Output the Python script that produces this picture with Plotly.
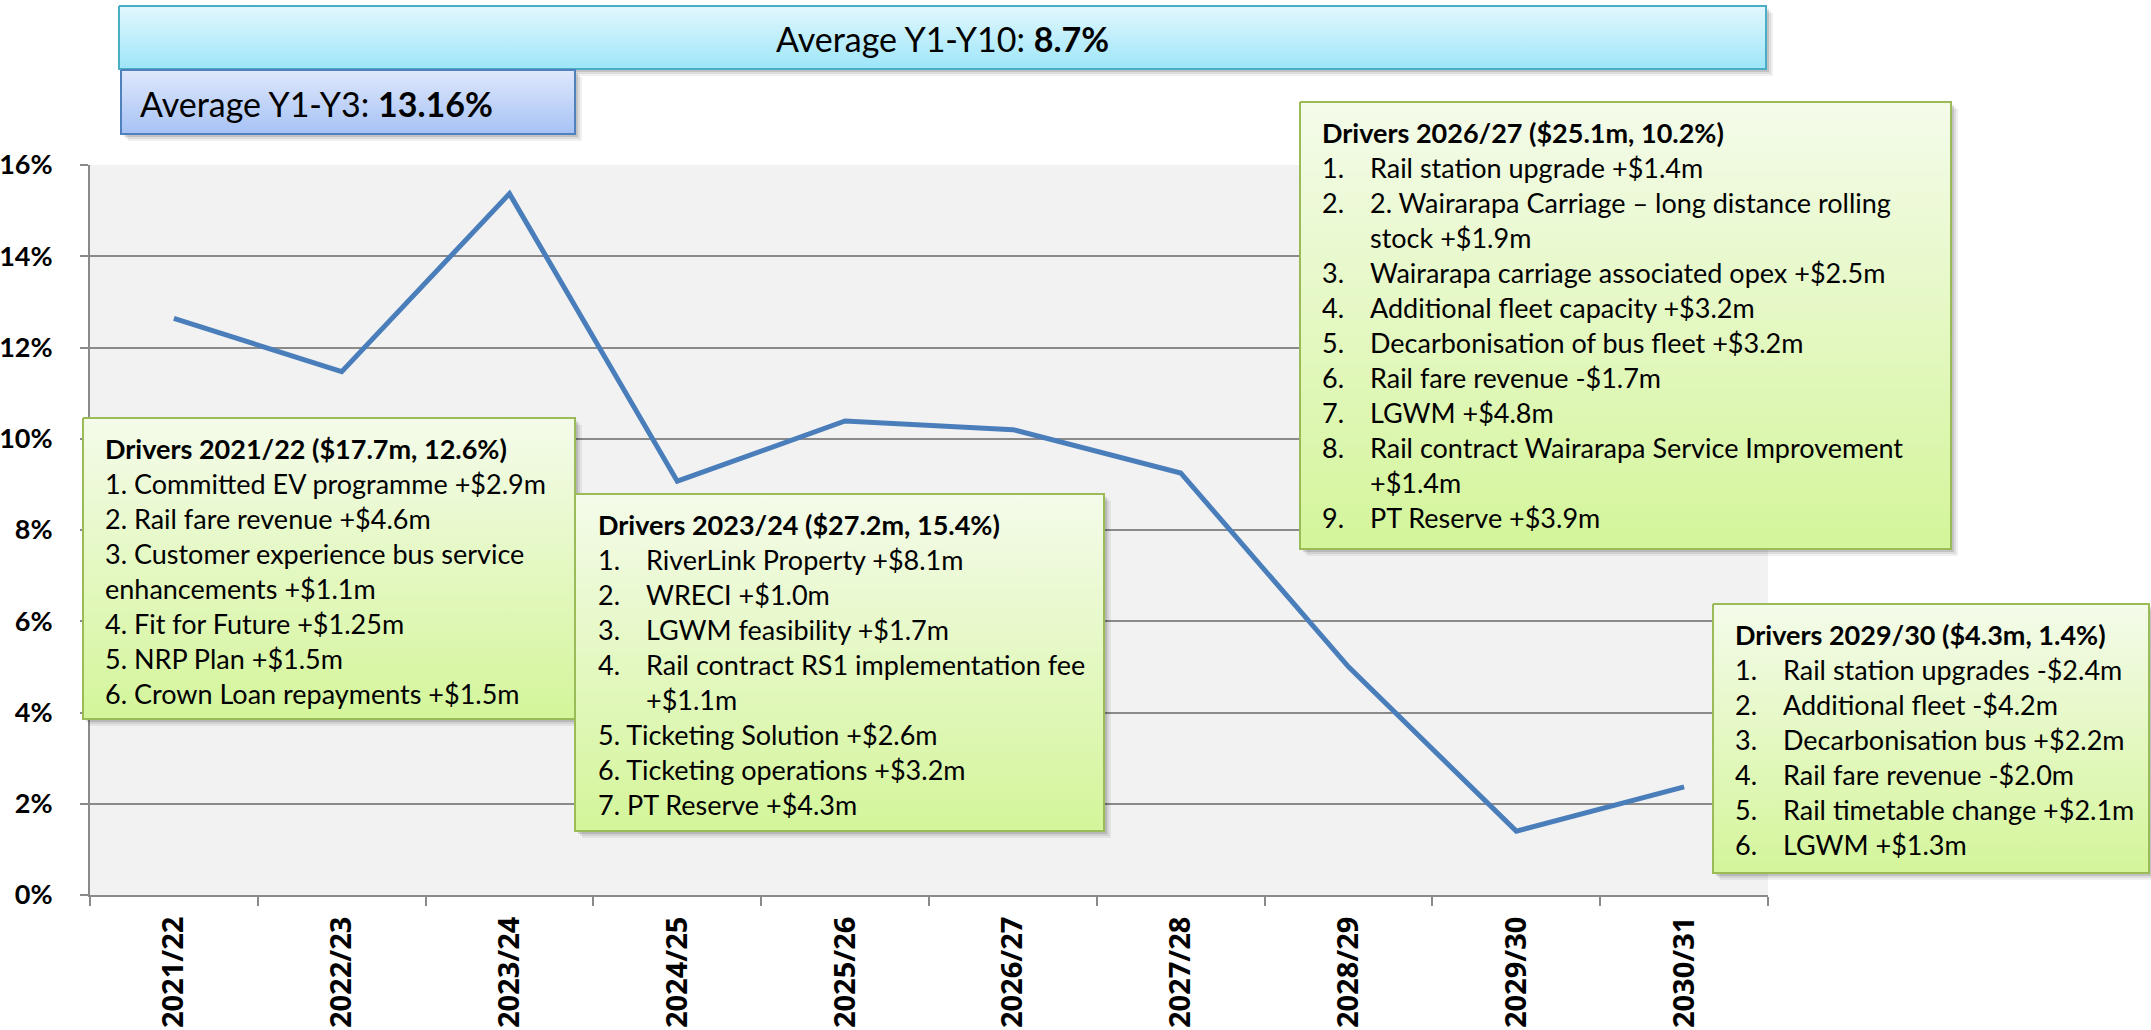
import plotly.graph_objects as go

# ---------------- data ----------------
years = ["2021/22", "2022/23", "2023/24", "2024/25", "2025/26",
         "2026/27", "2027/28", "2028/29", "2029/30", "2030/31"]
growth_pct = [12.64, 11.47, 15.37, 9.07, 10.39, 10.20, 9.25, 5.00, 1.40, 2.37]

y_tick_values = [0, 2, 4, 6, 8, 10, 12, 14, 16]
y_tick_labels = ["0%", "2%", "4%", "6%", "8%", "10%", "12%", "14%", "16%"]

avg_y1_y10_label = "Average Y1-Y10: "
avg_y1_y10_value = "8.7%"
avg_y1_y3_label = "Average Y1-Y3: "
avg_y1_y3_value = "13.16%"

drivers_2122_title = "Drivers 2021/22 ($17.7m, 12.6%)"
drivers_2122_items = [
    (None, "1. Committed EV programme +$2.9m"),
    (None, "2. Rail fare revenue +$4.6m"),
    (None, "3. Customer experience bus service"),
    (None, "enhancements +$1.1m"),
    (None, "4. Fit for Future +$1.25m"),
    (None, "5. NRP Plan +$1.5m"),
    (None, "6. Crown Loan repayments +$1.5m"),
]

drivers_2324_title = "Drivers 2023/24 ($27.2m, 15.4%)"
drivers_2324_items = [
    ("1.", "RiverLink Property +$8.1m"),
    ("2.", "WRECI +$1.0m"),
    ("3.", "LGWM feasibility +$1.7m"),
    ("4.", "Rail contract RS1 implementation fee"),
    ("", "+$1.1m"),
    (None, "5. Ticketing Solution +$2.6m"),
    (None, "6. Ticketing operations +$3.2m"),
    (None, "7. PT Reserve +$4.3m"),
]

drivers_2627_title = "Drivers 2026/27 ($25.1m, 10.2%)"
drivers_2627_items = [
    ("1.", "Rail station upgrade +$1.4m"),
    ("2.", "2. Wairarapa Carriage \u2013 long distance rolling"),
    ("", "stock +$1.9m"),
    ("3.", "Wairarapa carriage associated opex +$2.5m"),
    ("4.", "Additional fleet capacity +$3.2m"),
    ("5.", "Decarbonisation of bus fleet +$3.2m"),
    ("6.", "Rail fare revenue -$1.7m"),
    ("7.", "LGWM +$4.8m"),
    ("8.", "Rail contract Wairarapa Service Improvement"),
    ("", "+$1.4m"),
    ("9.", "PT Reserve +$3.9m"),
]

drivers_2930_title = "Drivers 2029/30 ($4.3m, 1.4%)"
drivers_2930_items = [
    ("1.", "Rail station upgrades -$2.4m"),
    ("2.", "Additional fleet -$4.2m"),
    ("3.", "Decarbonisation bus +$2.2m"),
    ("4.", "Rail fare revenue -$2.0m"),
    ("5.", "Rail timetable change +$2.1m"),
    ("6.", "LGWM +$1.3m"),
]

# ---------------- layout constants (pixels) ----------------
W, H = 2151, 1030
PL, PR, PT, PB = 90, 1768, 165, 895   # plot area

FONT = "Lato, 'Open Sans', sans-serif"
BOX_FS = 27
PITCH = 35
INDENT = 48

GREEN_TOP, GREEN_BOT, GREEN_LINE = "#f4fbea", "#d4f59a", "#9bbb59"

fig = go.Figure()

# main line
fig.add_trace(go.Scatter(
    x=years, y=growth_pct, mode="lines",
    line=dict(color="#4a7ebb", width=5),
    hoverinfo="skip", showlegend=False, xaxis="x", yaxis="y",
))

annotations = []


def add_box(x0, y0, x1, y1, top, bot, border):
    for off, a in [(7, 0.06), (5, 0.08), (3, 0.12)]:
        fig.add_trace(go.Scatter(
            x=[x0 + off, x1 + off, x1 + off, x0 + off, x0 + off],
            y=[y0 + off, y0 + off, y1 + off, y1 + off, y0 + off],
            mode="lines", fill="toself", fillcolor=f"rgba(0,0,0,{a})",
            line=dict(width=0), hoverinfo="skip", showlegend=False,
            xaxis="x2", yaxis="y2"))
    fig.add_trace(go.Scatter(
        x=[x0, x1, x1, x0, x0], y=[y0, y0, y1, y1, y0],
        mode="lines", fill="toself",
        fillgradient=dict(type="vertical", colorscale=[[0, top], [1, bot]],
                          start=y0, stop=y1),
        line=dict(color=border, width=2), hoverinfo="skip", showlegend=False,
        xaxis="x2", yaxis="y2"))


def add_text(x, y, text, size=BOX_FS, anchor="left"):
    annotations.append(dict(
        x=x, y=y, xref="x2", yref="y2", text=text, showarrow=False,
        xanchor=anchor, yanchor="middle",
        font=dict(family=FONT, size=size, color="black")))


def drivers_box(x0, y0, x1, y1, tx, title, items):
    add_box(x0, y0, x1, y1, GREEN_TOP, GREEN_BOT, GREEN_LINE)
    ty = y0 + 30
    add_text(tx, ty, f"<b>{title}</b>")
    for i, (num, txt) in enumerate(items):
        yy = ty + PITCH * (i + 1)
        if num is None:
            add_text(tx, yy, txt)
        else:
            if num:
                add_text(tx, yy, num)
            add_text(tx + INDENT, yy, txt)


drivers_box(83, 418, 575, 719, 103, drivers_2122_title, drivers_2122_items)
drivers_box(575, 494, 1104, 831, 596, drivers_2324_title, drivers_2324_items)
drivers_box(1300, 102, 1951, 549, 1320, drivers_2627_title, drivers_2627_items)
drivers_box(1713, 604, 2149, 873, 1733, drivers_2930_title, drivers_2930_items)

# average boxes
add_box(119, 6, 1766, 69, "#e2f7fd", "#9de6f9", "#4bacc6")
add_text((119 + 1766) / 2, 38, f"{avg_y1_y10_label}<b>{avg_y1_y10_value}</b>",
         size=34, anchor="center")
add_box(121, 70, 575, 134, "#dfe8fb", "#a6c2f5", "#4f81bd")
add_text(138, 103, f"{avg_y1_y3_label}<b>{avg_y1_y3_value}</b>", size=34)

# gray plot background
shapes = [dict(type="rect", xref="x domain", yref="y domain", x0=0, x1=1, y0=0, y1=1,
               fillcolor="#f2f2f2", line=dict(width=0), layer="below")]

grid_col = "#8a8a8a"
fig.update_layout(
    width=W, height=H,
    margin=dict(l=0, r=0, t=0, b=0),
    paper_bgcolor="white", plot_bgcolor="rgba(0,0,0,0)",
    showlegend=False,
    shapes=shapes,
    annotations=annotations,
    xaxis=dict(
        domain=[PL / W, PR / W], type="category", categoryorder="array",
        categoryarray=years, range=[-0.5, len(years) - 0.5],
        tickson="boundaries", ticks="outside", ticklen=9, tickwidth=2,
        tickcolor=grid_col, showline=True, linecolor=grid_col, linewidth=2,
        showgrid=False, zeroline=False, tickangle=-90,
        tickfont=dict(family="'Open Sans', sans-serif", size=29, color="black",
                      weight="bold"),
        ticklabelstandoff=8, automargin=False, fixedrange=True,
    ),
    yaxis=dict(
        domain=[(H - PB) / H, (H - PT) / H], range=[0, 16],
        tickvals=y_tick_values, ticktext=y_tick_labels,
        ticks="outside", ticklen=8, tickwidth=2, tickcolor=grid_col,
        showline=True, linecolor=grid_col, linewidth=2,
        showgrid=True, gridcolor=grid_col, gridwidth=2, zeroline=False,
        tickfont=dict(family=FONT, size=27, color="black", weight="bold"),
        ticklabelstandoff=22, automargin=False, fixedrange=True,
    ),
    xaxis2=dict(domain=[0, 1], range=[0, W], visible=False, fixedrange=True,
                anchor="y2"),
    yaxis2=dict(domain=[0, 1], range=[H, 0], visible=False, fixedrange=True,
                anchor="x2"),
)

fig.write_html(
    "out.html",
    config={"displayModeBar": False},
    post_script="document.body.style.margin='0px';document.body.style.padding='0px';"
                "document.documentElement.style.overflow='hidden';",
)
